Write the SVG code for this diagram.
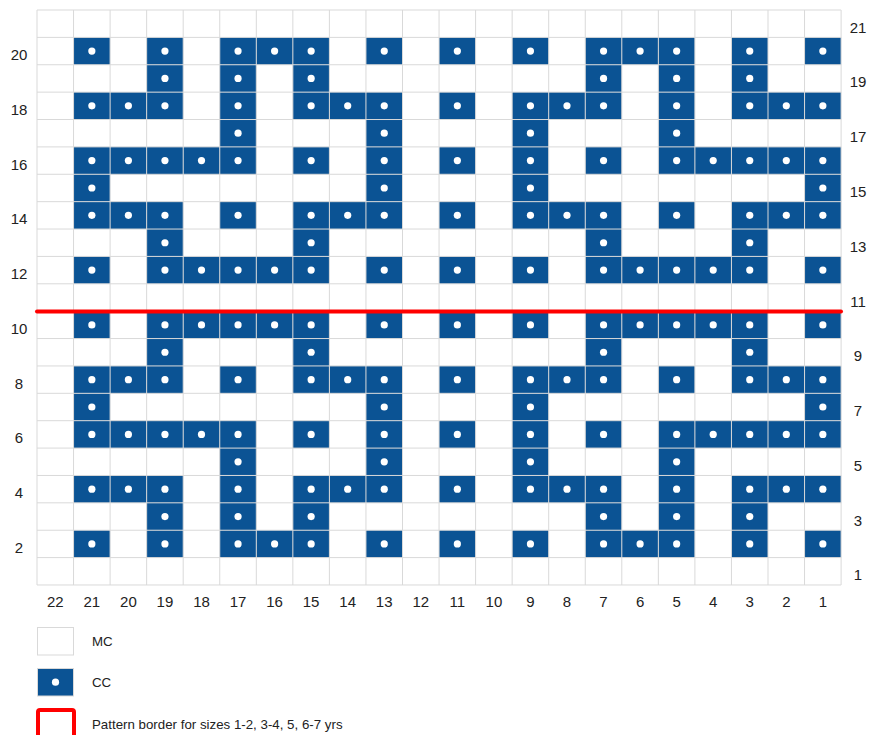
<svg xmlns="http://www.w3.org/2000/svg" xmlns:xlink="http://www.w3.org/1999/xlink" width="871" height="735" viewBox="0 0 871 735">
<style>
.lbl{font-family:"Liberation Sans",Arial,sans-serif;font-size:15px;fill:#222;text-anchor:middle}
.leg{font-family:"Liberation Sans",Arial,sans-serif;font-size:13.3px;fill:#222}
.grid{fill:none;stroke:#d9d9d9;stroke-width:1}
</style>
<defs>
<g id="cc"><rect width="36.55" height="27.38" fill="#0b5394"/><circle cx="18.3" cy="13.7" r="3.6" fill="#fff"/></g>
</defs>
<rect width="871" height="735" fill="#fff"/>
<g id="cells">
<!-- row 20 -->
<use href="#cc" x="73.55" y="37.38"/><use href="#cc" x="146.65" y="37.38"/><use href="#cc" x="219.75" y="37.38"/><use href="#cc" x="256.3" y="37.38"/><use href="#cc" x="292.85" y="37.38"/><use href="#cc" x="365.95" y="37.38"/><use href="#cc" x="439.05" y="37.38"/><use href="#cc" x="512.15" y="37.38"/><use href="#cc" x="585.25" y="37.38"/><use href="#cc" x="621.8" y="37.38"/><use href="#cc" x="658.35" y="37.38"/><use href="#cc" x="731.45" y="37.38"/><use href="#cc" x="804.55" y="37.38"/>
<!-- row 19 -->
<use href="#cc" x="146.65" y="64.76"/><use href="#cc" x="219.75" y="64.76"/><use href="#cc" x="292.85" y="64.76"/><use href="#cc" x="585.25" y="64.76"/><use href="#cc" x="658.35" y="64.76"/><use href="#cc" x="731.45" y="64.76"/>
<!-- row 18 -->
<use href="#cc" x="73.55" y="92.14"/><use href="#cc" x="110.1" y="92.14"/><use href="#cc" x="146.65" y="92.14"/><use href="#cc" x="219.75" y="92.14"/><use href="#cc" x="292.85" y="92.14"/><use href="#cc" x="329.4" y="92.14"/><use href="#cc" x="365.95" y="92.14"/><use href="#cc" x="439.05" y="92.14"/><use href="#cc" x="512.15" y="92.14"/><use href="#cc" x="548.7" y="92.14"/><use href="#cc" x="585.25" y="92.14"/><use href="#cc" x="658.35" y="92.14"/><use href="#cc" x="731.45" y="92.14"/><use href="#cc" x="768" y="92.14"/><use href="#cc" x="804.55" y="92.14"/>
<!-- row 17 -->
<use href="#cc" x="219.75" y="119.52"/><use href="#cc" x="365.95" y="119.52"/><use href="#cc" x="512.15" y="119.52"/><use href="#cc" x="658.35" y="119.52"/>
<!-- row 16 -->
<use href="#cc" x="73.55" y="146.9"/><use href="#cc" x="110.1" y="146.9"/><use href="#cc" x="146.65" y="146.9"/><use href="#cc" x="183.2" y="146.9"/><use href="#cc" x="219.75" y="146.9"/><use href="#cc" x="292.85" y="146.9"/><use href="#cc" x="365.95" y="146.9"/><use href="#cc" x="439.05" y="146.9"/><use href="#cc" x="512.15" y="146.9"/><use href="#cc" x="585.25" y="146.9"/><use href="#cc" x="658.35" y="146.9"/><use href="#cc" x="694.9" y="146.9"/><use href="#cc" x="731.45" y="146.9"/><use href="#cc" x="768" y="146.9"/><use href="#cc" x="804.55" y="146.9"/>
<!-- row 15 -->
<use href="#cc" x="73.55" y="174.28"/><use href="#cc" x="365.95" y="174.28"/><use href="#cc" x="512.15" y="174.28"/><use href="#cc" x="804.55" y="174.28"/>
<!-- row 14 -->
<use href="#cc" x="73.55" y="201.66"/><use href="#cc" x="110.1" y="201.66"/><use href="#cc" x="146.65" y="201.66"/><use href="#cc" x="219.75" y="201.66"/><use href="#cc" x="292.85" y="201.66"/><use href="#cc" x="329.4" y="201.66"/><use href="#cc" x="365.95" y="201.66"/><use href="#cc" x="439.05" y="201.66"/><use href="#cc" x="512.15" y="201.66"/><use href="#cc" x="548.7" y="201.66"/><use href="#cc" x="585.25" y="201.66"/><use href="#cc" x="658.35" y="201.66"/><use href="#cc" x="731.45" y="201.66"/><use href="#cc" x="768" y="201.66"/><use href="#cc" x="804.55" y="201.66"/>
<!-- row 13 -->
<use href="#cc" x="146.65" y="229.04"/><use href="#cc" x="292.85" y="229.04"/><use href="#cc" x="585.25" y="229.04"/><use href="#cc" x="731.45" y="229.04"/>
<!-- row 12 -->
<use href="#cc" x="73.55" y="256.42"/><use href="#cc" x="146.65" y="256.42"/><use href="#cc" x="183.2" y="256.42"/><use href="#cc" x="219.75" y="256.42"/><use href="#cc" x="256.3" y="256.42"/><use href="#cc" x="292.85" y="256.42"/><use href="#cc" x="365.95" y="256.42"/><use href="#cc" x="439.05" y="256.42"/><use href="#cc" x="512.15" y="256.42"/><use href="#cc" x="585.25" y="256.42"/><use href="#cc" x="621.8" y="256.42"/><use href="#cc" x="658.35" y="256.42"/><use href="#cc" x="694.9" y="256.42"/><use href="#cc" x="731.45" y="256.42"/><use href="#cc" x="804.55" y="256.42"/>
<!-- row 10 -->
<use href="#cc" x="73.55" y="311.18"/><use href="#cc" x="146.65" y="311.18"/><use href="#cc" x="183.2" y="311.18"/><use href="#cc" x="219.75" y="311.18"/><use href="#cc" x="256.3" y="311.18"/><use href="#cc" x="292.85" y="311.18"/><use href="#cc" x="365.95" y="311.18"/><use href="#cc" x="439.05" y="311.18"/><use href="#cc" x="512.15" y="311.18"/><use href="#cc" x="585.25" y="311.18"/><use href="#cc" x="621.8" y="311.18"/><use href="#cc" x="658.35" y="311.18"/><use href="#cc" x="694.9" y="311.18"/><use href="#cc" x="731.45" y="311.18"/><use href="#cc" x="804.55" y="311.18"/>
<!-- row 9 -->
<use href="#cc" x="146.65" y="338.56"/><use href="#cc" x="292.85" y="338.56"/><use href="#cc" x="585.25" y="338.56"/><use href="#cc" x="731.45" y="338.56"/>
<!-- row 8 -->
<use href="#cc" x="73.55" y="365.94"/><use href="#cc" x="110.1" y="365.94"/><use href="#cc" x="146.65" y="365.94"/><use href="#cc" x="219.75" y="365.94"/><use href="#cc" x="292.85" y="365.94"/><use href="#cc" x="329.4" y="365.94"/><use href="#cc" x="365.95" y="365.94"/><use href="#cc" x="439.05" y="365.94"/><use href="#cc" x="512.15" y="365.94"/><use href="#cc" x="548.7" y="365.94"/><use href="#cc" x="585.25" y="365.94"/><use href="#cc" x="658.35" y="365.94"/><use href="#cc" x="731.45" y="365.94"/><use href="#cc" x="768" y="365.94"/><use href="#cc" x="804.55" y="365.94"/>
<!-- row 7 -->
<use href="#cc" x="73.55" y="393.32"/><use href="#cc" x="365.95" y="393.32"/><use href="#cc" x="512.15" y="393.32"/><use href="#cc" x="804.55" y="393.32"/>
<!-- row 6 -->
<use href="#cc" x="73.55" y="420.7"/><use href="#cc" x="110.1" y="420.7"/><use href="#cc" x="146.65" y="420.7"/><use href="#cc" x="183.2" y="420.7"/><use href="#cc" x="219.75" y="420.7"/><use href="#cc" x="292.85" y="420.7"/><use href="#cc" x="365.95" y="420.7"/><use href="#cc" x="439.05" y="420.7"/><use href="#cc" x="512.15" y="420.7"/><use href="#cc" x="585.25" y="420.7"/><use href="#cc" x="658.35" y="420.7"/><use href="#cc" x="694.9" y="420.7"/><use href="#cc" x="731.45" y="420.7"/><use href="#cc" x="768" y="420.7"/><use href="#cc" x="804.55" y="420.7"/>
<!-- row 5 -->
<use href="#cc" x="219.75" y="448.08"/><use href="#cc" x="365.95" y="448.08"/><use href="#cc" x="512.15" y="448.08"/><use href="#cc" x="658.35" y="448.08"/>
<!-- row 4 -->
<use href="#cc" x="73.55" y="475.46"/><use href="#cc" x="110.1" y="475.46"/><use href="#cc" x="146.65" y="475.46"/><use href="#cc" x="219.75" y="475.46"/><use href="#cc" x="292.85" y="475.46"/><use href="#cc" x="329.4" y="475.46"/><use href="#cc" x="365.95" y="475.46"/><use href="#cc" x="439.05" y="475.46"/><use href="#cc" x="512.15" y="475.46"/><use href="#cc" x="548.7" y="475.46"/><use href="#cc" x="585.25" y="475.46"/><use href="#cc" x="658.35" y="475.46"/><use href="#cc" x="731.45" y="475.46"/><use href="#cc" x="768" y="475.46"/><use href="#cc" x="804.55" y="475.46"/>
<!-- row 3 -->
<use href="#cc" x="146.65" y="502.84"/><use href="#cc" x="219.75" y="502.84"/><use href="#cc" x="292.85" y="502.84"/><use href="#cc" x="585.25" y="502.84"/><use href="#cc" x="658.35" y="502.84"/><use href="#cc" x="731.45" y="502.84"/>
<!-- row 2 -->
<use href="#cc" x="73.55" y="530.22"/><use href="#cc" x="146.65" y="530.22"/><use href="#cc" x="219.75" y="530.22"/><use href="#cc" x="256.3" y="530.22"/><use href="#cc" x="292.85" y="530.22"/><use href="#cc" x="365.95" y="530.22"/><use href="#cc" x="439.05" y="530.22"/><use href="#cc" x="512.15" y="530.22"/><use href="#cc" x="585.25" y="530.22"/><use href="#cc" x="621.8" y="530.22"/><use href="#cc" x="658.35" y="530.22"/><use href="#cc" x="731.45" y="530.22"/><use href="#cc" x="804.55" y="530.22"/>
</g>
<g id="grid">
<path class="grid" d="M37 10V585M73.55 10V585M110.1 10V585M146.65 10V585M183.2 10V585M219.75 10V585M256.3 10V585M292.85 10V585M329.4 10V585M365.95 10V585M402.5 10V585M439.05 10V585M475.6 10V585M512.15 10V585M548.7 10V585M585.25 10V585M621.8 10V585M658.35 10V585M694.9 10V585M731.45 10V585M768 10V585M804.55 10V585M841.1 10V585M37 10H841.1M37 37.38H841.1M37 64.76H841.1M37 92.14H841.1M37 119.52H841.1M37 146.9H841.1M37 174.28H841.1M37 201.66H841.1M37 229.04H841.1M37 256.42H841.1M37 283.8H841.1M37 311.18H841.1M37 338.56H841.1M37 365.94H841.1M37 393.32H841.1M37 420.7H841.1M37 448.08H841.1M37 475.46H841.1M37 502.84H841.1M37 530.22H841.1M37 557.6H841.1M37 584.98H841.1"/>
</g>
<g id="connectors">
<line x1="37" y1="311.5" x2="841" y2="311.5" stroke="#ff0000" stroke-width="4" stroke-linecap="round"/>
</g>
<g id="row-labels-left">
<text class="lbl" x="19" y="60.1">20</text>
<text class="lbl" x="19" y="114.8">18</text>
<text class="lbl" x="19" y="169.6">16</text>
<text class="lbl" x="19" y="224.4">14</text>
<text class="lbl" x="19" y="279.1">12</text>
<text class="lbl" x="19" y="333.9">10</text>
<text class="lbl" x="19" y="388.6">8</text>
<text class="lbl" x="19" y="443.4">6</text>
<text class="lbl" x="19" y="498.1">4</text>
<text class="lbl" x="19" y="552.9">2</text>
</g>
<g id="row-labels-right">
<text class="lbl" x="858" y="32.7">21</text>
<text class="lbl" x="858" y="87.4">19</text>
<text class="lbl" x="858" y="142.2">17</text>
<text class="lbl" x="858" y="197">15</text>
<text class="lbl" x="858" y="251.7">13</text>
<text class="lbl" x="858" y="306.5">11</text>
<text class="lbl" x="858" y="361.2">9</text>
<text class="lbl" x="858" y="416">7</text>
<text class="lbl" x="858" y="470.8">5</text>
<text class="lbl" x="858" y="525.5">3</text>
<text class="lbl" x="858" y="580.3">1</text>
</g>
<g id="col-labels">
<text class="lbl" x="55.3" y="607">22</text>
<text class="lbl" x="91.8" y="607">21</text>
<text class="lbl" x="128.4" y="607">20</text>
<text class="lbl" x="164.9" y="607">19</text>
<text class="lbl" x="201.5" y="607">18</text>
<text class="lbl" x="238" y="607">17</text>
<text class="lbl" x="274.6" y="607">16</text>
<text class="lbl" x="311.1" y="607">15</text>
<text class="lbl" x="347.7" y="607">14</text>
<text class="lbl" x="384.2" y="607">13</text>
<text class="lbl" x="420.8" y="607">12</text>
<text class="lbl" x="457.3" y="607">11</text>
<text class="lbl" x="493.9" y="607">10</text>
<text class="lbl" x="530.4" y="607">9</text>
<text class="lbl" x="567" y="607">8</text>
<text class="lbl" x="603.5" y="607">7</text>
<text class="lbl" x="640.1" y="607">6</text>
<text class="lbl" x="676.6" y="607">5</text>
<text class="lbl" x="713.2" y="607">4</text>
<text class="lbl" x="749.7" y="607">3</text>
<text class="lbl" x="786.3" y="607">2</text>
<text class="lbl" x="822.8" y="607">1</text>
</g>
<g id="legend-mc">
<rect x="37.5" y="627.5" width="36" height="27.5" fill="#fff" stroke="#d9d9d9" stroke-width="1"/>
<text class="leg" x="92" y="646">MC</text>
</g>
<g id="legend-cc">
<rect x="37.5" y="668.5" width="36" height="27.5" fill="#0b5394" stroke="#d9d9d9" stroke-width="1"/>
<circle cx="55.5" cy="682.2" r="3.6" fill="#fff"/>
<text class="leg" x="92" y="687">CC</text>
</g>
<g id="legend-border">
<rect x="38" y="710" width="36" height="30" rx="2" fill="#fff" stroke="#ff0000" stroke-width="4"/>
<text class="leg" x="92" y="728.5">Pattern border for sizes 1-2, 3-4, 5, 6-7 yrs</text>
</g>
</svg>
